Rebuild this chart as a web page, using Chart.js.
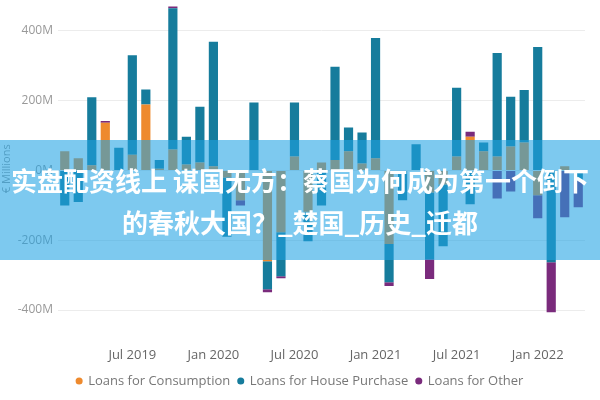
<!DOCTYPE html>
<html>
<head>
<meta charset="utf-8">
<script src="https://cdn.jsdelivr.net/npm/chart.js@4.4.0/dist/chart.umd.min.js"></script>
<style>
    html, body { margin: 0; padding: 0; background: #fff; }
    .chart-box { position: relative; width: 600px; height: 400px; }
    .banner {
        position: absolute; left: 0; top: 140px; width: 600px; height: 120px;
        background: rgba(31, 162, 228, 0.58);
        color: #fff; text-align: center; white-space: nowrap;
        font: bold 26px "Noto Sans CJK SC", sans-serif;
        line-height: 42px; padding-top: 19px; box-sizing: border-box;
    }
</style>
</head>
<body>
<div class="chart-box">
    <canvas id="myChart"></canvas>
    <div class="banner">实盘配资线上 谋国无方：蔡国为何成为第一个倒下<br>的春秋大国？_楚国_历史_迁都</div>
</div>
<script>
"use strict"

const MONTHS = ['Feb 2019', 'Mar 2019', 'Apr 2019', 'May 2019', 'Jun 2019', 'Jul 2019', 'Aug 2019', 'Sep 2019',
    'Oct 2019', 'Nov 2019', 'Dec 2019', 'Jan 2020', 'Feb 2020', 'Mar 2020', 'Apr 2020', 'May 2020', 'Jun 2020',
    'Jul 2020', 'Aug 2020', 'Sep 2020', 'Oct 2020', 'Nov 2020', 'Dec 2020', 'Jan 2021', 'Feb 2021', 'Mar 2021',
    'Apr 2021', 'May 2021', 'Jun 2021', 'Jul 2021', 'Aug 2021', 'Sep 2021', 'Oct 2021', 'Nov 2021', 'Dec 2021',
    'Jan 2022', 'Feb 2022', 'Mar 2022', 'Apr 2022']

// € millions
const CONSUMPTION = [55, 35, 15, 137, 0, 45, 189, 5, 60, 17, 23, 12, -20, -85, 0, -260, -177, 40, -118, 23,
    30, 55, 20, 35, -211, 0, 0, -63, -40, 40, 97, 55, 40, 69, 80, -71, 0, 12, 0]
const HOUSE_PURCHASE = [-100, -90, 195, 0, 65, 285, 43, 25, 405, 80, 160, 357, -170, 0, 195, -80, -126, 155, -85, -100,
    267, 68, 89, 345, -109, -85, 75, -191, -177, 197, -97, 25, 297, 142, 151, 354, -263, 0, -30]
const OTHER = [0, 0, 0, 5, 0, 0, 0, 0, 5, 0, 0, 0, 0, -15, 0, -9, -6, 0, 0, 0,
    0, 0, 0, 0, -11, 0, 0, -57, 0, 0, 14, 0, -80, -60, 0, -66, -143, -134, -75]

const SERIES_NAMES = ['Loans for Consumption', 'Loans for House Purchase', 'Loans for Other']
const Y_TICKS = [-400, -200, 0, 200, 400]
const X_TICK_MONTHS = ['Jan', 'Jul']

const FONT = '"Open Sans", "DejaVu Sans", sans-serif'

function makeDataset(label, data, color) {
    return {
        label: label,
        data: data,
        backgroundColor: color,
        borderWidth: 0,
        barPercentage: 0.68,
        categoryPercentage: 1,
    }
}

const ctx = document.getElementById('myChart').getContext('2d')
const chart = new Chart(ctx, {
    type: 'bar',
    data: {
        labels: MONTHS,
        datasets: [
            makeDataset(SERIES_NAMES[0], CONSUMPTION, '#ee8a2e'),
            makeDataset(SERIES_NAMES[1], HOUSE_PURCHASE, '#167c9c'),
            makeDataset(SERIES_NAMES[2], OTHER, '#7a2b7c'),
        ]
    },
    options: {
        responsive: true,
        maintainAspectRatio: false,
        animation: false,
        layout: { padding: { top: 3, right: 0, bottom: 2.5, left: 0 } },
        scales: {
            x: {
                stacked: true,
                afterFit: scale => { scale.height = 32 },
                grid: { display: false, drawTicks: false },
                border: { display: false },
                ticks: {
                    autoSkip: false,
                    maxRotation: 0,
                    padding: 12.5,
                    color: '#666',
                    font: { family: FONT, size: 13 },
                    callback: function (value, index) {
                        const label = MONTHS[index]
                        return X_TICK_MONTHS.includes(label.slice(0, 3)) ? label : ''
                    }
                }
            },
            y: {
                stacked: true,
                min: -470,
                max: 480,
                afterFit: scale => {
                    scale.width = 58
                    scale.paddingTop = 0
                    scale.paddingBottom = 0
                },
                afterBuildTicks: scale => { scale.ticks = Y_TICKS.map(v => ({ value: v })) },
                grid: { color: '#ececec', drawTicks: false },
                border: { display: false },
                ticks: {
                    padding: 5,
                    color: '#999',
                    font: { family: FONT, size: 12 },
                    callback: v => v + 'M'
                },
                title: {
                    display: true,
                    text: '€ Millions',
                    color: '#999',
                    padding: 0,
                    font: { family: FONT, size: 11 }
                }
            },
            // empty right-hand strip so the legend stays centred on the whole canvas
            yRight: {
                position: 'right',
                min: -470,
                max: 480,
                afterFit: scale => {
                    scale.width = 15
                    scale.paddingTop = 0
                    scale.paddingBottom = 0
                },
                grid: { display: false, drawTicks: false },
                border: { display: false },
                ticks: { display: false }
            }
        },
        plugins: {
            legend: {
                position: 'bottom',
                align: 'center',
                labels: {
                    usePointStyle: true,
                    pointStyle: 'circle',
                    boxWidth: 5,
                    boxHeight: 5,
                    padding: 8,
                    color: '#777',
                    font: { family: FONT, size: 13 }
                }
            },
            tooltip: { enabled: false }
        }
    }
})
</script>
</body>
</html>
